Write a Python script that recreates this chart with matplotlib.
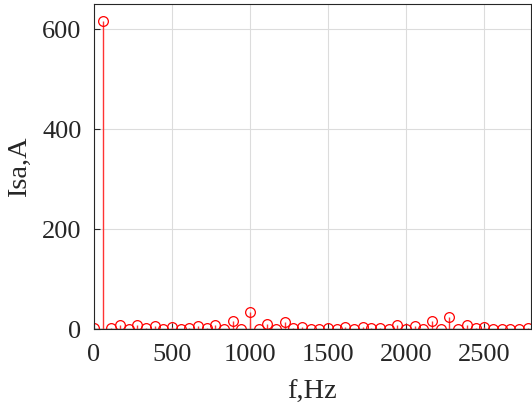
import numpy as np
import matplotlib
matplotlib.use('Agg')
import matplotlib.pyplot as plt

plt.rcParams['font.family'] = ['Liberation Serif', 'DejaVu Serif']

# harmonic spectrum, bin width ~55.6 Hz
df = 1000.0 / 18
amps = [2, 617, 2, 8.5, 0.5, 8, 3, 7, 1, 4, 1, 2, 6, 2, 9, 1, 17, 0, 34, 1,
        11, 0, 14, 2, 5, 0, 0, 2, 0, 5, 0, 5, 3, 3, 1, 9, 1, 6, 0, 17,
        1, 25, 0, 9, 3, 5, 1, 1, 1, 1, 2]
freqs = np.arange(len(amps)) * df

fig = plt.figure(figsize=(5.32, 4.07), dpi=100)
ax = fig.add_axes([94/532, 1-329/407, 437/532, 325/407])

markerline, stemlines, baseline = ax.stem(freqs, amps, basefmt=' ')
plt.setp(stemlines, color='#ff3333', linewidth=1.0)
plt.setp(markerline, color='red', markerfacecolor='none', markersize=7, markeredgewidth=0.9)
ax.axhline(0, color='#262626', linewidth=1.0, zorder=1)

ax.set_xlim(0, 2800)
ax.set_ylim(0, 650)
ax.set_xticks([0, 500, 1000, 1500, 2000, 2500])
ax.set_yticks([0, 200, 400, 600])
ax.grid(True, color='#dcdcdc', linewidth=0.8)
ax.set_axisbelow(True)
ax.tick_params(direction='in', labelsize=19, colors='#262626', length=4)
ax.tick_params(axis='x', pad=11)
ax.tick_params(axis='y', pad=9)
for s in ax.spines.values():
    s.set_color('#262626')
    s.set_linewidth(0.8)

ax.set_xlabel('f,Hz', fontsize=20.5, color='#262626', labelpad=10)
ax.set_ylabel('Isa,A', fontsize=20.5, color='#262626', labelpad=7)

fig.savefig('out.png', dpi=100)
